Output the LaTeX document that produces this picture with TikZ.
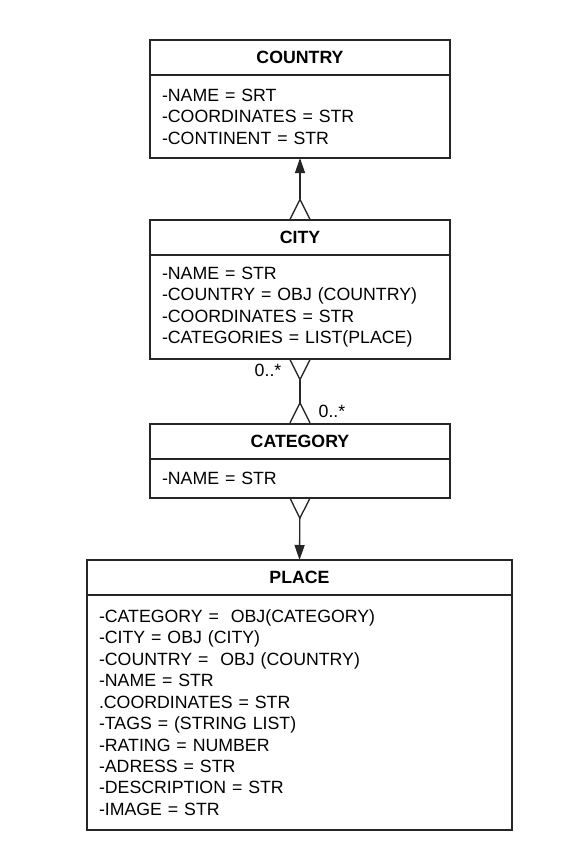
\documentclass[tikz,border=0pt]{standalone}
\usepackage{fontspec}
\setmainfont{Liberation Sans}
\usetikzlibrary{arrows.meta, positioning}

\tikzset{
    manyEnd/.tip={Straight Barb[reversed, length=15pt, width=15pt, line width=1pt]},
    oneEnd/.tip={Triangle[length=11.25pt, width=7.5pt]},
}

\begin{document}
\begin{tikzpicture}[
    x=0.75pt, y=-0.75pt,
    font=\fontsize{13.3}{16.1}\selectfont,
    entity_head/.style={
        rectangle,
        draw=black!85,
        line width=1.5pt,
        outer sep=0pt,
        minimum width=225pt,
        minimum height=26.25pt,
        inner sep=0pt,
        font=\fontsize{13.3}{16.1}\selectfont\bfseries
    },
    entity_body/.style={
        rectangle,
        draw=black!85,
        line width=1.5pt,
        outer sep=0pt,
        text width=207pt,
        inner xsep=9pt,
        inner ysep=0pt,
        align=left
    },
    wide_head/.style={
        entity_head,
        minimum width=318.75pt
    },
    wide_body/.style={
        entity_body,
        text width=300.75pt
    },
    relation/.style={
        line width=1pt,
        draw=black!85
    },
    card_label/.style={
        inner sep=0pt,
        font=\fontsize{13.3}{16.1}\selectfont
    }
]
    \useasboundingbox (0,0) rectangle (576,854);

    % Entity Layer
    \node[entity_head] (country) at (300,57.5) {COUNTRY};
    \node[entity_body, minimum height=62.25pt, below=0pt of country] (countryBody) {
        -NAME = SRT\\
        -COORDINATES = STR\\
        -CONTINENT = STR
    };

    \node[entity_head] (city) at (300,237.5) {CITY};
    \node[entity_body, minimum height=78pt, below=0pt of city] (cityBody) {
        -NAME = STR\\
        -COUNTRY = OBJ (COUNTRY)\\
        -COORDINATES = STR\\
        -CATEGORIES = LIST(PLACE)
    };

    \node[entity_head] (category) at (300,441) {CATEGORY};
    \node[entity_body, minimum height=29.25pt, below=0pt of category] (categoryBody) {
        -NAME = STR
    };

    \node[wide_head] (place) at (299.5,577.5) {PLACE};
    \node[wide_body, minimum height=176.25pt, below=0pt of place] (placeBody) {
        -CATEGORY =~ OBJ(CATEGORY)\\
        -CITY = OBJ (CITY)\\
        -COUNTRY =~ OBJ (COUNTRY)\\
        -NAME = STR\\
        .COORDINATES = STR\\
        -TAGS = (STRING LIST)\\
        -RATING = NUMBER\\
        -ADRESS = STR\\
        -DESCRIPTION = STR\\
        -IMAGE = STR
    };

    % Relations
    \draw[relation, manyEnd-oneEnd] (city.north) -- (countryBody.south);
    \draw[relation, manyEnd-manyEnd] (cityBody.south) -- (category.north)
        node[card_label, pos=0.18, left=13.5pt] {0..*}
        node[card_label, pos=0.81, right=13.5pt] {0..*};
    \draw[relation, manyEnd-oneEnd] (categoryBody.south) -- (place.north);
\end{tikzpicture}
\end{document}
